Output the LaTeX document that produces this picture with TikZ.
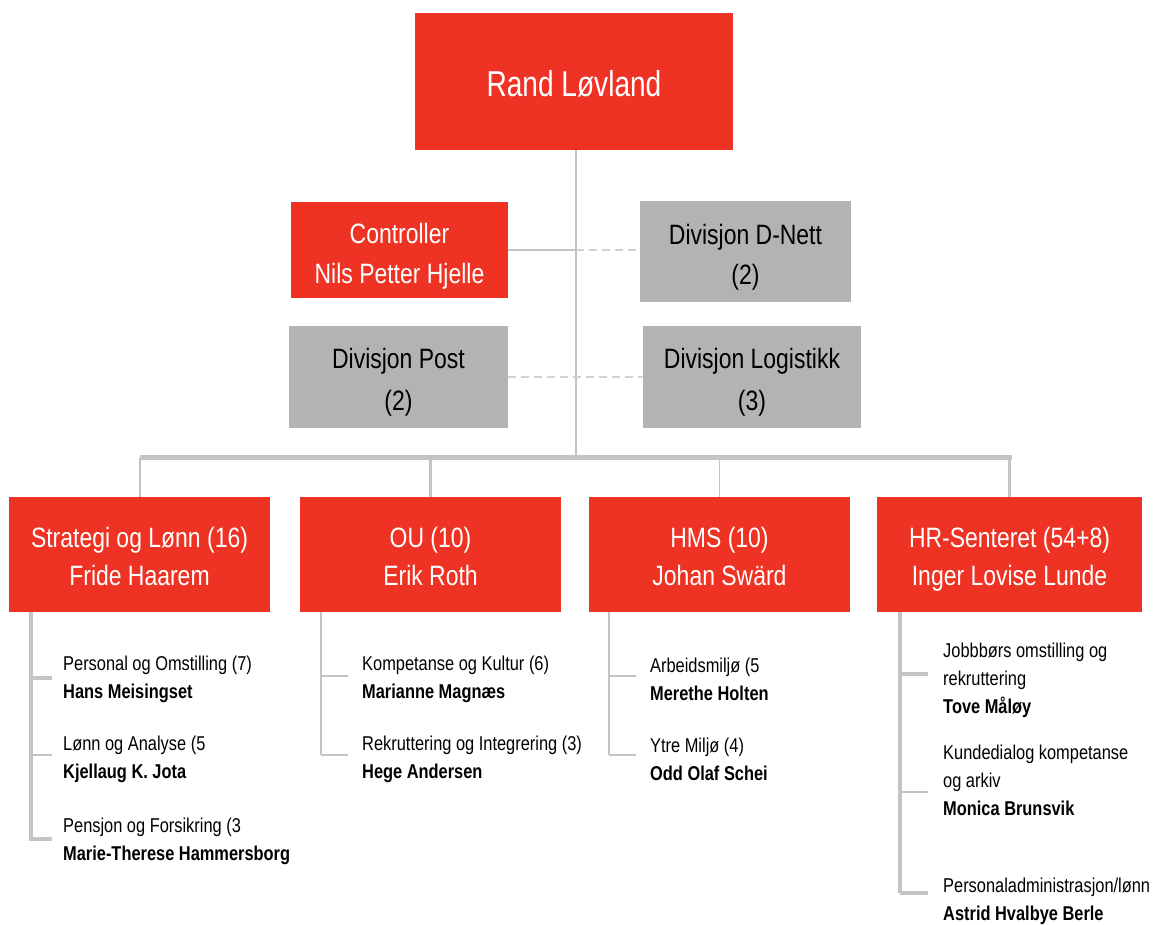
\documentclass[tikz,border=0pt]{standalone}
\usepackage{fontspec}
\setmainfont{Liberation Sans}[FakeStretch=0.82]
\newfontfamily\titlefont{Liberation Sans}[FakeStretch=0.78]
\begin{document}
\definecolor{boxred}{RGB}{238,50,36}
\definecolor{boxgray}{RGB}{179,179,179}
\definecolor{linegray}{RGB}{196,196,200}
\definecolor{dashgray}{RGB}{210,210,212}
% centred lines of a box, lowered by #1 without changing the box size
\newcommand{\boxtext}[2]{\raisebox{-#1}[\height][\depth]{\begin{tabular}{@{}c@{}}#2\end{tabular}}}
\begin{tikzpicture}[x=1pt,y=-1pt,
  redbox/.style={fill=boxred,text=white,inner sep=0pt},
  graybox/.style={fill=boxgray,text=black,inner sep=0pt},
  boxfont/.style={font=\fontsize{28}{40}\selectfont},
  divfont/.style={font=\fontsize{28}{42}\selectfont},
  deptfont/.style={font=\fontsize{28}{38}\selectfont},
  unit/.style={anchor=west,align=left,inner sep=0pt,font=\fontsize{20}{28}\selectfont},
  conn/.style={draw=linegray,line width=1.6pt},
  connthick/.style={draw=linegray,line width=4.5pt},
  connmid/.style={draw=linegray,line width=3pt},
  dashconn/.style={draw=dashgray,line width=1.4pt,dash pattern=on 8pt off 5pt}]
\useasboundingbox (0,0) rectangle (1165,925);

% top of the organisation
\node[redbox,minimum width=318pt,minimum height=137pt,font=\titlefont\fontsize{36}{44}\selectfont] (rand) at (574,81.5) {\raisebox{-2pt}[\height][\depth]{Rand Løvland}};

% staff and divisions
\node[redbox,boxfont,minimum width=217pt,minimum height=96pt] (ctrl) at (399.5,250) {\boxtext{6pt}{Controller\\Nils Petter Hjelle}};
\node[graybox,boxfont,minimum width=211pt,minimum height=101pt] (dnett) at (745.5,251.5) {\boxtext{5pt}{Divisjon D-Nett\\(2)}};
\node[graybox,divfont,minimum width=219pt,minimum height=102pt] (post) at (398.5,377) {\boxtext{4pt}{Divisjon Post\\(2)}};
\node[graybox,divfont,minimum width=218pt,minimum height=102pt] (logi) at (752,377) {\boxtext{4pt}{Divisjon Logistikk\\(3)}};

% departments
\node[redbox,deptfont,minimum width=261pt,minimum height=115pt] (strat) at (139.5,554.5) {\boxtext{4.5pt}{Strategi og Lønn (16)\\Fride Haarem}};
\node[redbox,deptfont,minimum width=261pt,minimum height=115pt] (ou) at (430.5,554.5) {\boxtext{4.5pt}{OU (10)\\Erik Roth}};
\node[redbox,deptfont,minimum width=261pt,minimum height=115pt] (hms) at (719.5,554.5) {\boxtext{4.5pt}{HMS (10)\\Johan Swärd}};
\node[redbox,deptfont,minimum width=265pt,minimum height=115pt] (hr) at (1009.5,554.5) {\boxtext{4.5pt}{HR-Senteret (54+8)\\Inger Lovise Lunde}};

% bar joining the departments
\coordinate (barL) at (140,457.5);
\coordinate (barR) at (1012,457.5);
\coordinate (barM) at (576,457.5);

\draw[conn] (rand.south -| barM) -- (barM);
\draw[conn] (ctrl.east) -- (ctrl.east -| barM);
\draw[dashconn] (ctrl.east -| barM) -- (dnett.west |- ctrl.east);
\draw[dashconn] (post.east) -- (logi.west);
\draw[connthick] (barL) -- (barR);
\draw[conn] (barL |- strat.north) -- (barL);
\draw[connmid] (ou.north) -- (ou.north |- barL);
\draw[conn] (hms.north) -- (hms.north |- barL);
\draw[connmid] (hr.north) -- (hr.north |- barL);

% units below Strategi og Lønn
\node[unit] (s1) at (63,679) {Personal og Omstilling (7)\\\textbf{Hans Meisingset}};
\node[unit] (s2) at (63,759) {Lønn og Analyse (5\\\textbf{Kjellaug K. Jota}};
\node[unit] (s3) at (63,841) {Pensjon og Forsikring (3\\\textbf{Marie-Therese Hammersborg}};
\coordinate (sT) at (31,612);
\draw[connthick] (sT) -- (sT |- s3.west);
\draw[connthick] ([yshift=1pt]sT |- s1.west) -- ([shift={(-11pt,1pt)}]s1.west);
\draw[conn] ([yshift=4pt]sT |- s2.west) -- ([shift={(-11pt,4pt)}]s2.west);
\draw[connthick] ([yshift=2pt]sT |- s3.west) -- ([shift={(-11pt,2pt)}]s3.west);

% units below OU
\node[unit] (o1) at (362,679) {Kompetanse og Kultur (6)\\\textbf{Marianne Magnæs}};
\node[unit] (o2) at (362,759) {Rekruttering og Integrering (3)\\\textbf{Hege Andersen}};
\coordinate (oT) at (321,612);
\draw[conn] (oT) -- ([yshift=4pt]oT |- o2.west);
\draw[conn] ([yshift=3pt]oT |- o1.west) -- ([shift={(-14pt,3pt)}]o1.west);
\draw[conn] ([yshift=4pt]oT |- o2.west) -- ([shift={(-14pt,4pt)}]o2.west);

% units below HMS
\node[unit] (h1) at (650,679) {Arbeidsmiljø (5\\\textbf{Merethe Holten}};
\node[unit] (h2) at (650,759) {Ytre Miljø (4)\\\textbf{Odd Olaf Schei}};
\coordinate (hT) at (609,612);
\draw[conn] (hT) -- ([yshift=4pt]hT |- h2.west);
\draw[conn] ([yshift=3pt]hT |- h1.west) -- ([shift={(-14pt,3pt)}]h1.west);
\draw[conn] ([yshift=4pt]hT |- h2.west) -- ([shift={(-14pt,4pt)}]h2.west);

% units below HR-Senteret
\node[unit] (r1) at (943,680) {Jobbbørs omstilling og\\rekruttering\\\textbf{Tove Måløy}};
\node[unit] (r2) at (943,780) {Kundedialog kompetanse\\og arkiv\\\textbf{Monica Brunsvik}};
\node[unit] (r3) at (943,901) {Personaladministrasjon/lønn\\\textbf{Astrid Hvalbye Berle}};
\coordinate (rT) at (900,612);
\draw[connthick] (rT) -- ([yshift=8pt]rT |- r3.west);
\draw[connthick] ([yshift=6pt]rT |- r1.west) -- ([shift={(-15pt,6pt)}]r1.west);
\draw[conn] ([yshift=-12pt]rT |- r2.west) -- ([shift={(-15pt,-12pt)}]r2.west);
\draw[connthick] ([yshift=8pt]rT |- r3.west) -- ([shift={(-15pt,8pt)}]r3.west);
\end{tikzpicture}
\end{document}
